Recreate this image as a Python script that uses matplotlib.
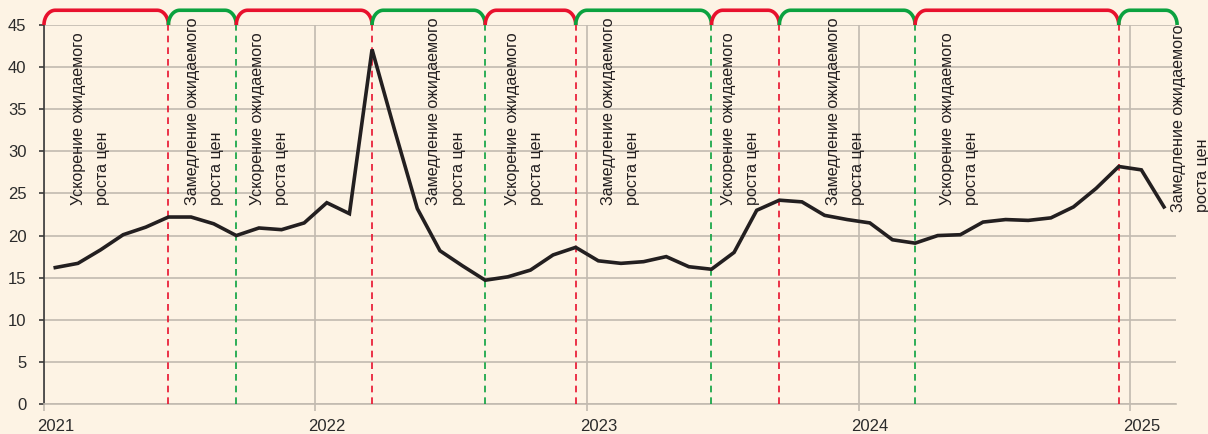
import numpy as np
import matplotlib
matplotlib.use('Agg')
import matplotlib.pyplot as plt

plt.rcParams['font.family'] = ['Liberation Sans', 'DejaVu Sans']

# monthly values, Jan 2021 .. Feb 2025
values = [16.2, 16.7, 18.3, 20.1, 21.0, 22.2, 22.2, 21.4, 20.0, 20.9, 20.7, 21.5,
          23.9, 22.6, 42.1, 32.5, 23.2, 18.2, 16.4, 14.7, 15.1, 15.9, 17.7, 18.6,
          17.0, 16.7, 16.9, 17.5, 16.3, 16.0, 18.0, 23.0, 24.2, 24.0, 22.4, 21.9,
          21.5, 19.5, 19.1, 20.0, 20.1, 21.6, 21.9, 21.8, 22.1, 23.4, 25.6, 28.2,
          27.8, 23.4]
years = ['2021', '2022', '2023', '2024', '2025']

# month index where the regime switches
switch_months = [5, 8, 14, 19, 23, 29, 32, 38, 47]
phases = ['up', 'down', 'up', 'down', 'up', 'down', 'up', 'down', 'up', 'down']
phase_text = {'up': 'Ускорение ожидаемого\nроста цен',
              'down': 'Замедление ожидаемого\nроста цен'}
# label centre (in months) and bottom (in y units)
label_x = [2.06, 7.09, 9.97, 17.77, 21.24, 25.48, 30.78, 35.42, 40.46, 50.67]
label_y = [23.6, 23.6, 23.6, 23.6, 23.6, 23.6, 23.6, 23.6, 23.6, 22.8]

bg = '#FDF3E4'
red = '#E8112D'
green = '#0BA23F'
grid_c = '#C2BAB0'
ink = '#231F20'

fig = plt.figure(figsize=(12.08, 4.34), dpi=100)
fig.patch.set_facecolor(bg)
ax = fig.add_axes([0.0364, 0.0691, 0.9371, 0.8733])
ax.set_facecolor(bg)

xmax = 50.03
ax.set_xlim(0, xmax)
ax.set_ylim(0, 45)

x = np.arange(len(values)) + 0.5
ax.plot(x, values, color=ink, lw=2.6, zorder=5, solid_joinstyle='miter')

# regime boundaries
bounds = [0] + [m + 0.5 for m in switch_months] + [xmax + 0.05]
for i, m in enumerate(switch_months):
    c = red if phases[i] == 'up' else green
    ax.plot([m + 0.5, m + 0.5], [0, 45], color=c, lw=1.2, ls=(0, (4, 3)), zorder=3)

# brackets on top
rx, ry = 0.5, 1.75
t = np.linspace(0, np.pi / 2, 20)
for i, ph in enumerate(phases):
    a, b = bounds[i], bounds[i + 1]
    c = red if ph == 'up' else green
    xs = np.concatenate([a + rx - rx * np.cos(t), b - rx + rx * np.sin(t)])
    ys = np.concatenate([45 + ry * np.sin(t), 45 + ry * np.cos(t)])
    ax.plot(xs, ys, color=c, lw=2.6, clip_on=False, solid_capstyle='butt', zorder=6)
    ax.text(label_x[i], label_y[i], phase_text[ph], rotation=90, ha='center', va='bottom',
            multialignment='left', fontsize=11.6, linespacing=1.8, color=ink)

# axes styling
ax.set_yticks(np.arange(0, 46, 5))
ax.set_xticks([0, 12, 24, 36, 48])
ax.set_xticklabels([])
ax.set_xticks([0.5, 12.5, 24.5, 36.5, 48.5], minor=True)
ax.set_xticklabels(years, minor=True)
ax.tick_params(axis='x', which='major', length=5, color=grid_c, width=1.2)
ax.tick_params(axis='x', which='minor', length=0, pad=11, labelsize=12, labelcolor='#2b2b2b')
ax.tick_params(axis='y', length=3.5, width=1.2, color='#3a3a3a', pad=9,
               labelsize=12, labelcolor='#2b2b2b')
ax.grid(True, which='major', color=grid_c, lw=1.2)
ax.set_axisbelow(True)
for s in ['top', 'right']:
    ax.spines[s].set_visible(False)
ax.spines['left'].set_color('#3a3a3a')
ax.spines['left'].set_linewidth(1.2)
ax.spines['bottom'].set_color(grid_c)
ax.spines['bottom'].set_linewidth(1.2)

plt.savefig('out.png', dpi=100, facecolor=bg)
